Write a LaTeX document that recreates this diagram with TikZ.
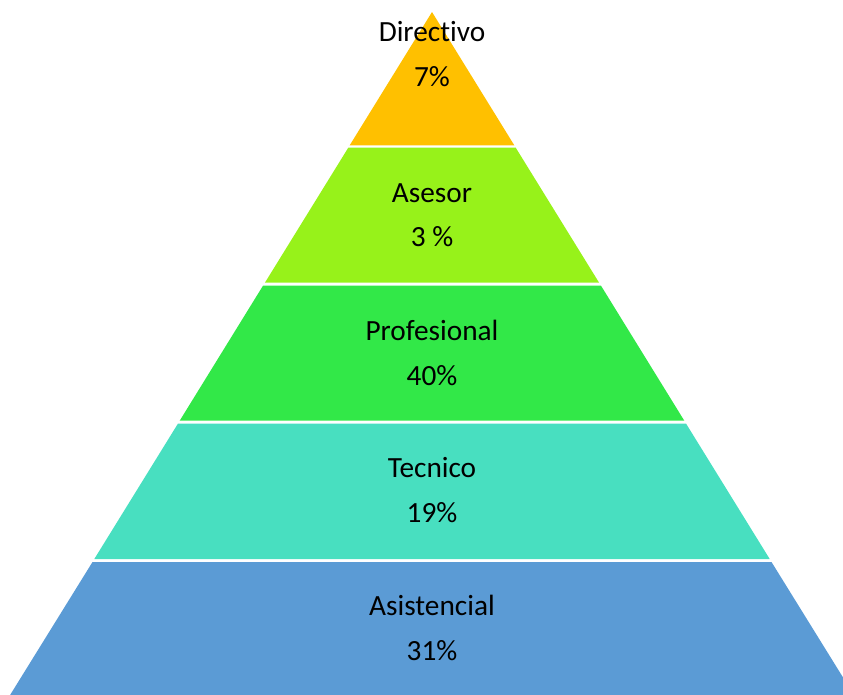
\documentclass[tikz,border=0pt]{standalone}
\usepackage{fontspec}
\setmainfont[Ligatures=NoCommon]{Carlito}
\definecolor{cDir}{RGB}{255,192,0}
\definecolor{cAse}{RGB}{151,242,26}
\definecolor{cPro}{RGB}{50,232,72}
\definecolor{cTec}{RGB}{72,223,192}
\definecolor{cAsi}{RGB}{91,155,213}
\begin{document}
\begin{tikzpicture}[x=1pt,y=-1pt,
  lbl/.style={anchor=base,inner sep=0pt,font=\fontsize{29.3}{31}\selectfont,text=black}]
\useasboundingbox (0,0) rectangle (843,694);
\clip (0,0) rectangle (843,694);
% layers
\fill[cAsi] (92.5,562) -- (771.5,562) -- (857,700) -- (7,700) -- cycle;
\fill[cTec] (177.9,423.7) -- (686.1,423.7) -- (769.7,559) -- (94.3,559) -- cycle;
\fill[cPro] (263.0,285.7) -- (601.0,285.7) -- (684.3,420.7) -- (179.7,420.7) -- cycle;
\fill[cAse] (348.4,147.5) -- (515.6,147.5) -- (599.1,282.7) -- (264.9,282.7) -- cycle;
\fill[cDir] (432,12) -- (514.3,145.3) -- (349.7,145.3) -- cycle;
% labels
\node[lbl] (dir) at (432,41) {Directivo};
\node[lbl] (dirp) at (432,86) {7\%};
\node[lbl] (ase) at (432,202) {Asesor};
\node[lbl] (asep) at (432,246.5) {3 \%};
\node[lbl] (pro) at (432,340) {Profesional};
\node[lbl] (prop) at (432,385) {40\%};
\node[lbl] (tec) at (432,477.5) {Tecnico};
\node[lbl] (tecp) at (432,522.5) {19\%};
\node[lbl] (asi) at (432,615.5) {Asistencial};
\node[lbl] (asip) at (432,660.5) {31\%};
\end{tikzpicture}
\end{document}
